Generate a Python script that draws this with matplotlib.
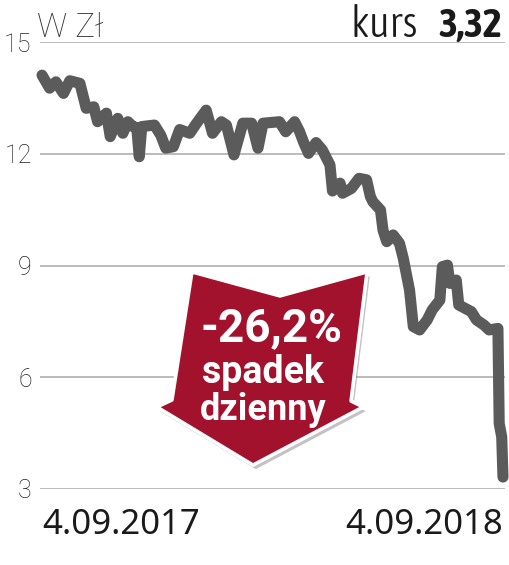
import matplotlib.pyplot as plt
import matplotlib.patheffects as pe
from matplotlib import font_manager as fm
from matplotlib.patches import Polygon
import pandas as pd

# daily close
dates = ['2017-09-04', '2017-09-10', '2017-09-15', '2017-09-21', '2017-09-26',
         '2017-10-04', '2017-10-09', '2017-10-15', '2017-10-18', '2017-10-25',
         '2017-10-28', '2017-11-03', '2017-11-07', '2017-11-11', '2017-11-15',
         '2017-11-18', '2017-11-20', '2017-11-22', '2017-12-02', '2017-12-07',
         '2017-12-11', '2017-12-17', '2017-12-22', '2017-12-30', '2018-01-04',
         '2018-01-12', '2018-01-17', '2018-01-24', '2018-01-28', '2018-02-03',
         '2018-02-10', '2018-02-17', '2018-02-22', '2018-02-26', '2018-03-11',
         '2018-03-16', '2018-03-23', '2018-03-27', '2018-03-30', '2018-04-03',
         '2018-04-09', '2018-04-14', '2018-04-20', '2018-04-22', '2018-04-28',
         '2018-04-30', '2018-05-07', '2018-05-13', '2018-05-19', '2018-05-22',
         '2018-05-24', '2018-05-30', '2018-06-01', '2018-06-04', '2018-06-09',
         '2018-06-14', '2018-06-17', '2018-06-22', '2018-06-25', '2018-06-30',
         '2018-07-06', '2018-07-10', '2018-07-16', '2018-07-18', '2018-07-22',
         '2018-07-24', '2018-07-29', '2018-07-31', '2018-08-05', '2018-08-10',
         '2018-08-14', '2018-08-20', '2018-08-24', '2018-08-31', '2018-09-01',
         '2018-09-03', '2018-09-04']
close = [14.11, 13.76, 13.93, 13.62, 13.96,
         13.89, 13.22, 13.26, 12.86, 13.09,
         12.46, 12.95, 12.55, 12.86, 12.73,
         12.70, 11.92, 12.73, 12.77, 12.50,
         12.15, 12.19, 12.65, 12.55, 12.80,
         13.17, 12.55, 12.86, 12.77, 11.97,
         12.82, 12.82, 12.15, 12.82, 12.86,
         12.59, 12.86, 12.59, 12.32, 12.01,
         12.30, 12.10, 11.70, 11.00, 11.21,
         10.94, 11.07, 11.34, 11.30, 10.85,
         10.71, 10.49, 9.95, 9.64, 9.82,
         9.60, 9.20, 8.34, 7.36, 7.27,
         7.54, 7.81, 8.07, 8.97, 9.01,
         8.52, 8.61, 7.94, 7.85, 7.76,
         7.54, 7.40, 7.27, 7.31, 4.76,
         4.40, 3.32]

yticks = [3, 6, 9, 12, 15]
date_labels = ['4.09.2017', '4.09.2018']
unit_label = 'W Zł'
kurs_label = 'kurs'
last_price = '3,32'
badge_lines = ['-26,2%', 'spadek', 'dzienny']

W, H = 510, 565


def pick_narrow(target):
    # closest-weight upright face of any condensed / narrow family
    best = None
    for f in fm.fontManager.ttflist:
        if 'DejaVu' in f.name or f.style != 'normal':
            continue
        if not ('Condensed' in f.name or 'Narrow' in f.name
                or f.stretch in ('condensed', 'semi-condensed')):
            continue
        w = f.weight if isinstance(f.weight, int) else fm.weight_dict.get(f.weight, 400)
        if best is None or abs(w - target) < abs(best[0] - target):
            best = (w, f.fname)
    return best[1] if best else None


light_path = pick_narrow(300)
bold_path = pick_narrow(700)


def narrow_font(size, path):
    if path is None:
        return fm.FontProperties(family=['Roboto', 'DejaVu Sans'], size=size * 0.9,
                                 weight='bold' if path is bold_path else 'normal')
    return fm.FontProperties(fname=path, size=size)


def fx(px):
    return px / W


def fy(py):
    return 1 - py / H


x = pd.to_datetime(dates)

fig = plt.figure(figsize=(W / 100, H / 100), dpi=100)
ax = fig.add_axes([fx(40), 76 / H, 465 / W, 447 / H])

ax.plot(x, close, color='#5b5b5b', lw=8, solid_capstyle='round',
        solid_joinstyle='round', zorder=3, clip_on=False)
ax.set_ylim(3, 15)
pad = pd.Timedelta(days=1.6)
ax.set_xlim(x[0] - pad, x[-1] + pad)

ax.set_yticks(yticks)
ax.yaxis.grid(True, color='#b5b5b5', lw=1.3)
ax.set_axisbelow(True)
ax.tick_params(axis='y', length=0, pad=6, labelsize=18, labelcolor='#222222')
for lbl in ax.get_yticklabels():
    lbl.set_family(['Roboto', 'DejaVu Sans'])
    lbl.set_fontweight('light')

ax.set_xticks([x[0], x[-1]])
ax.set_xticklabels(date_labels)
ax.tick_params(axis='x', length=0, pad=14, labelsize=25, labelcolor='#1a1a1a')
xl = ax.get_xticklabels()
xl[0].set_ha('left')
xl[1].set_ha('right')
for lbl in xl:
    lbl.set_family(['Noto Sans', 'DejaVu Sans'])

for s in ax.spines.values():
    s.set_visible(False)

# header
fig.text(fx(37), fy(37), unit_label, ha='left', va='baseline', fontsize=24,
         family=['Roboto', 'DejaVu Sans'], fontweight='light', color='#333333')
fig.text(fx(418), fy(37), kurs_label, ha='right', va='baseline',
         fontproperties=narrow_font(31, light_path), color='#1a1a1a')
fig.text(fx(502), fy(37), last_price, ha='right', va='baseline',
         fontproperties=narrow_font(29, bold_path), color='#1a1a1a')

# red arrow badge
arrow_px = [(192, 272), (280, 296), (367, 272), (351, 401), (363, 407),
            (253, 465), (157, 407), (172, 400)]
badge = Polygon([(fx(a), fy(b)) for a, b in arrow_px], closed=True,
                transform=fig.transFigure, facecolor='#a3122d',
                edgecolor='white', lw=2.5, joinstyle='round', zorder=5)
badge.set_path_effects([pe.withSimplePatchShadow(offset=(2, -3),
                                                 shadow_rgbFace='#888888', alpha=0.5),
                        pe.Normal()])
fig.add_artist(badge)

badge_font = ['Roboto', 'DejaVu Sans']
fig.text(fx(272), fy(341), badge_lines[0], ha='center', va='baseline', fontsize=33,
         family=badge_font, fontweight='bold', color='white', zorder=6)
fig.text(fx(263), fy(383), badge_lines[1], ha='center', va='baseline', fontsize=27,
         family=badge_font, fontweight='bold', color='white', zorder=6)
fig.text(fx(263), fy(420), badge_lines[2], ha='center', va='baseline', fontsize=26,
         family=badge_font, fontweight='bold', color='white', zorder=6)

fig.savefig('out.png', dpi=100)
